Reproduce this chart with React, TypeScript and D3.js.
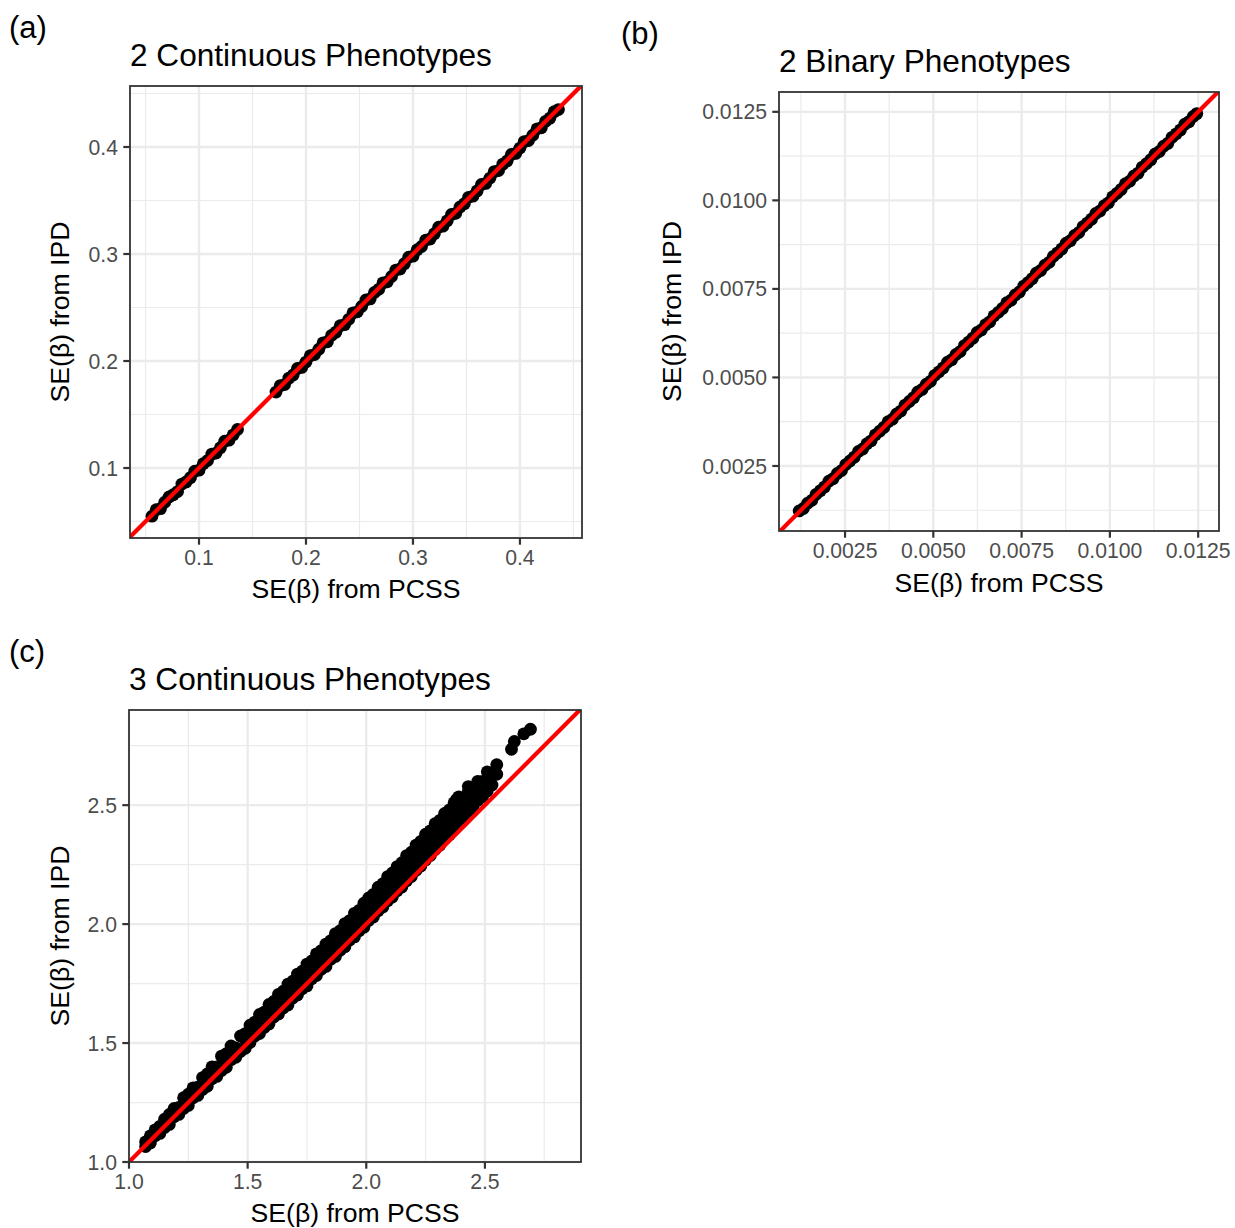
import React from "react";
import * as d3 from "d3";

type Pt = [number, number];

const FONT = "'Liberation Sans', Arial, Helvetica, sans-serif";

// ---------- data: [SE from PCSS, SE from IPD] ----------
const twoContinuousPoints: Pt[] = [
  [0.056, 0.055], [0.060, 0.061], [0.064, 0.062], [0.068, 0.068], [0.072, 0.073], [0.076, 0.075],
  [0.080, 0.078], [0.084, 0.085], [0.088, 0.087], [0.092, 0.091], [0.096, 0.097], [0.100, 0.098],
  [0.104, 0.104], [0.108, 0.107], [0.112, 0.113], [0.116, 0.114], [0.120, 0.119], [0.124, 0.125],
  [0.128, 0.126], [0.132, 0.131], [0.136, 0.136],
  [0.172, 0.171], [0.176, 0.177], [0.180, 0.178], [0.184, 0.184], [0.188, 0.187], [0.192, 0.193],
  [0.196, 0.194], [0.200, 0.199], [0.204, 0.205], [0.208, 0.206], [0.212, 0.211], [0.216, 0.217],
  [0.220, 0.218], [0.224, 0.224], [0.228, 0.227], [0.232, 0.233], [0.236, 0.234], [0.240, 0.239],
  [0.244, 0.245], [0.248, 0.246], [0.252, 0.251], [0.256, 0.257], [0.260, 0.258], [0.264, 0.264],
  [0.268, 0.267], [0.272, 0.273], [0.276, 0.274], [0.280, 0.279], [0.284, 0.285], [0.288, 0.286],
  [0.292, 0.291], [0.296, 0.297], [0.300, 0.298], [0.304, 0.304], [0.308, 0.307], [0.312, 0.313],
  [0.316, 0.314], [0.320, 0.319], [0.324, 0.325], [0.328, 0.326], [0.332, 0.331], [0.336, 0.337],
  [0.340, 0.338], [0.344, 0.344], [0.348, 0.347], [0.352, 0.353], [0.356, 0.354], [0.360, 0.359],
  [0.364, 0.365], [0.368, 0.366], [0.372, 0.371], [0.376, 0.377], [0.380, 0.378], [0.384, 0.384],
  [0.388, 0.387], [0.392, 0.393], [0.396, 0.394], [0.400, 0.399], [0.404, 0.405], [0.408, 0.406],
  [0.412, 0.411], [0.416, 0.417], [0.420, 0.418], [0.424, 0.424], [0.428, 0.427], [0.432, 0.433],
  [0.436, 0.435],
];

const twoBinaryPoints: Pt[] = [
  [0.00120, 0.00123], [0.00132, 0.00130], [0.00144, 0.00145], [0.00156, 0.00153], [0.00168, 0.00170],
  [0.00180, 0.00180], [0.00192, 0.00191], [0.00204, 0.00207], [0.00216, 0.00214], [0.00228, 0.00229],
  [0.00240, 0.00237], [0.00252, 0.00254], [0.00264, 0.00264], [0.00276, 0.00275], [0.00288, 0.00291],
  [0.00300, 0.00298], [0.00312, 0.00313], [0.00324, 0.00321], [0.00336, 0.00338], [0.00348, 0.00348],
  [0.00360, 0.00359], [0.00372, 0.00375], [0.00384, 0.00382], [0.00396, 0.00397], [0.00408, 0.00405],
  [0.00420, 0.00422], [0.00432, 0.00432], [0.00444, 0.00443], [0.00456, 0.00459], [0.00468, 0.00466],
  [0.00480, 0.00481], [0.00492, 0.00489], [0.00504, 0.00506], [0.00516, 0.00516], [0.00528, 0.00527],
  [0.00540, 0.00543], [0.00552, 0.00550], [0.00564, 0.00565], [0.00576, 0.00573], [0.00588, 0.00590],
  [0.00600, 0.00600], [0.00612, 0.00611], [0.00624, 0.00627], [0.00636, 0.00634], [0.00648, 0.00649],
  [0.00660, 0.00657], [0.00672, 0.00674], [0.00684, 0.00684], [0.00696, 0.00695], [0.00708, 0.00711],
  [0.00720, 0.00718], [0.00732, 0.00733], [0.00744, 0.00741], [0.00756, 0.00758], [0.00768, 0.00768],
  [0.00780, 0.00779], [0.00792, 0.00795], [0.00804, 0.00802], [0.00816, 0.00817], [0.00828, 0.00825],
  [0.00840, 0.00842], [0.00852, 0.00852], [0.00864, 0.00863], [0.00876, 0.00879], [0.00888, 0.00886],
  [0.00900, 0.00901], [0.00912, 0.00909], [0.00924, 0.00926], [0.00936, 0.00936], [0.00948, 0.00947],
  [0.00960, 0.00963], [0.00972, 0.00970], [0.00984, 0.00985], [0.00996, 0.00993], [0.01008, 0.01010],
  [0.01020, 0.01020], [0.01032, 0.01031], [0.01044, 0.01047], [0.01056, 0.01054], [0.01068, 0.01069],
  [0.01080, 0.01077], [0.01092, 0.01094], [0.01104, 0.01104], [0.01116, 0.01115], [0.01128, 0.01131],
  [0.01140, 0.01138], [0.01152, 0.01153], [0.01164, 0.01161], [0.01176, 0.01178], [0.01188, 0.01188],
  [0.01200, 0.01199], [0.01212, 0.01215], [0.01224, 0.01222], [0.01236, 0.01237], [0.01246, 0.01245],
];

const threeContinuousPoints: Pt[] = [
  [1.07, 1.065], [1.07, 1.085], [1.09, 1.080], [1.09, 1.110], [1.11, 1.110], [1.11, 1.135],
  [1.13, 1.120], [1.13, 1.150], [1.15, 1.145], [1.15, 1.180], [1.17, 1.158], [1.17, 1.185], [1.17, 1.200],
  [1.19, 1.190], [1.19, 1.225], [1.21, 1.200], [1.21, 1.230], [1.23, 1.225], [1.23, 1.270],
  [1.25, 1.238], [1.25, 1.265], [1.25, 1.285], [1.27, 1.270], [1.27, 1.312], [1.29, 1.280], [1.29, 1.315],
  [1.31, 1.305], [1.31, 1.355], [1.33, 1.318], [1.33, 1.350], [1.33, 1.370], [1.35, 1.350], [1.35, 1.400],
  [1.37, 1.360], [1.37, 1.400], [1.39, 1.385], [1.39, 1.445], [1.41, 1.398], [1.41, 1.430], [1.41, 1.455],
  [1.43, 1.430], [1.43, 1.488], [1.45, 1.440], [1.45, 1.480], [1.47, 1.465], [1.47, 1.530],
  [1.49, 1.478], [1.49, 1.515], [1.49, 1.540],
  [1.51, 1.502], [1.51, 1.540], [1.51, 1.575], [1.53, 1.530], [1.53, 1.570], [1.53, 1.588],
  [1.55, 1.540], [1.55, 1.575], [1.55, 1.620], [1.57, 1.566], [1.57, 1.605], [1.57, 1.630],
  [1.59, 1.580], [1.59, 1.620], [1.59, 1.662], [1.61, 1.610], [1.61, 1.655], [1.61, 1.675],
  [1.63, 1.622], [1.63, 1.660], [1.63, 1.705], [1.65, 1.647], [1.65, 1.690], [1.65, 1.718],
  [1.67, 1.660], [1.67, 1.698], [1.67, 1.748], [1.69, 1.690], [1.69, 1.740], [1.69, 1.760],
  [1.71, 1.702], [1.71, 1.745], [1.71, 1.790], [1.73, 1.728], [1.73, 1.775], [1.73, 1.802],
  [1.75, 1.740], [1.75, 1.780], [1.75, 1.832], [1.77, 1.770], [1.77, 1.820], [1.77, 1.845],
  [1.79, 1.784], [1.79, 1.825], [1.79, 1.875], [1.81, 1.810], [1.81, 1.858], [1.81, 1.888],
  [1.83, 1.822], [1.83, 1.860], [1.83, 1.916], [1.85, 1.852], [1.85, 1.905], [1.85, 1.930],
  [1.87, 1.864], [1.87, 1.905], [1.87, 1.960], [1.89, 1.890], [1.89, 1.940], [1.89, 1.972],
  [1.91, 1.905], [1.91, 1.950], [1.91, 2.002], [1.93, 1.933], [1.93, 1.988], [1.93, 2.015],
  [1.95, 1.946], [1.95, 1.985], [1.95, 2.045], [1.97, 1.972], [1.97, 2.025], [1.97, 2.058],
  [1.99, 1.987], [1.99, 2.030], [1.99, 2.088],
  [2.01, 2.015], [2.01, 2.050], [2.01, 2.080], [2.01, 2.110],
  [2.03, 2.030], [2.03, 2.060], [2.03, 2.095], [2.03, 2.125],
  [2.05, 2.056], [2.05, 2.095], [2.05, 2.125], [2.05, 2.155],
  [2.07, 2.072], [2.07, 2.105], [2.07, 2.138], [2.07, 2.170],
  [2.09, 2.098], [2.09, 2.135], [2.09, 2.170], [2.09, 2.200],
  [2.11, 2.114], [2.11, 2.148], [2.11, 2.180], [2.11, 2.215],
  [2.13, 2.140], [2.13, 2.180], [2.13, 2.215], [2.13, 2.242],
  [2.15, 2.156], [2.15, 2.190], [2.15, 2.225], [2.15, 2.258],
  [2.17, 2.182], [2.17, 2.220], [2.17, 2.258], [2.17, 2.288],
  [2.19, 2.200], [2.19, 2.235], [2.19, 2.270], [2.19, 2.302],
  [2.21, 2.226], [2.21, 2.265], [2.21, 2.300], [2.21, 2.332],
  [2.23, 2.244], [2.23, 2.280], [2.23, 2.315], [2.23, 2.348],
  [2.25, 2.270], [2.25, 2.308], [2.25, 2.345], [2.25, 2.378],
  [2.27, 2.288], [2.27, 2.322], [2.27, 2.360], [2.27, 2.392],
  [2.29, 2.314], [2.29, 2.350], [2.29, 2.390], [2.29, 2.422],
  [2.31, 2.332], [2.31, 2.366], [2.31, 2.404], [2.31, 2.436],
  [2.33, 2.358], [2.33, 2.395], [2.33, 2.432], [2.33, 2.465],
  [2.35, 2.376], [2.35, 2.410], [2.35, 2.448], [2.35, 2.480],
  [2.37, 2.405], [2.37, 2.440], [2.37, 2.475], [2.37, 2.510], [2.38, 2.524],
  [2.39, 2.430], [2.39, 2.465], [2.39, 2.500], [2.39, 2.535],
  [2.41, 2.445], [2.41, 2.490], [2.41, 2.530],
  [2.43, 2.475], [2.43, 2.515], [2.43, 2.555], [2.43, 2.578],
  [2.45, 2.490], [2.45, 2.530], [2.45, 2.565],
  [2.47, 2.520], [2.47, 2.560], [2.47, 2.600],
  [2.49, 2.535], [2.49, 2.575], [2.49, 2.600],
  [2.51, 2.560], [2.51, 2.605], [2.51, 2.640],
  [2.53, 2.585], [2.53, 2.630], [2.55, 2.630], [2.55, 2.670],
  [2.612, 2.735], [2.624, 2.768], [2.664, 2.800], [2.692, 2.819],
];

const twoContinuousTicks = [0.1, 0.2, 0.3, 0.4];
const twoContinuousMinor = [0.05, 0.15, 0.25, 0.35, 0.45];
const twoBinaryTicks = [0.0025, 0.005, 0.0075, 0.01, 0.0125];
const twoBinaryMinor = [0.00125, 0.00375, 0.00625, 0.00875, 0.01125];
const threeContinuousTicks = [1.0, 1.5, 2.0, 2.5];
const threeContinuousMinor = [1.25, 1.75, 2.25, 2.75];

const xAxisTitle = "SE(\u03b2) from PCSS";
const yAxisTitle = "SE(\u03b2) from IPD";

// ---------- styling ----------
const TICK_FS = 21.2;
const AXIS_FS = 26.6;
const TITLE_FS = 31.6;
const TAG_FS = 31;
const POINT_R = 6.4;

interface PanelProps {
  id: string;
  tag: string;
  tagX: number;
  tagY: number;
  title: string;
  titleY: number;
  left: number;
  right: number;
  top: number;
  bottom: number;
  xDomain: [number, number];
  yDomain: [number, number];
  ticks: number[];
  minor: number[];
  fmt: (v: number) => string;
  points: Pt[];
  yTitleX: number;
  xTitleY: number;
}

function Panel(p: PanelProps) {
  const x = d3.scaleLinear().domain(p.xDomain).range([p.left, p.right]);
  const y = d3.scaleLinear().domain(p.yDomain).range([p.bottom, p.top]);
  const inX = (v: number) => v >= p.xDomain[0] - 1e-9 && v <= p.xDomain[1] + 1e-9;
  const inY = (v: number) => v >= p.yDomain[0] - 1e-9 && v <= p.yDomain[1] + 1e-9;
  const lo = Math.min(p.xDomain[0], p.yDomain[0]) - 1;
  const hi = Math.max(p.xDomain[1], p.yDomain[1]) + 1;
  const abline = d3.line<number>().x((d) => x(d)).y((d) => y(d))([lo, hi]) || "";
  const tickLen = 6.7;
  const gap = 5.3;
  const midY = (p.top + p.bottom) / 2;
  const midX = (p.left + p.right) / 2;
  return (
    <g>
      <defs>
        <clipPath id={`clip-${p.id}`}>
          <rect x={p.left} y={p.top} width={p.right - p.left} height={p.bottom - p.top} />
        </clipPath>
      </defs>
      <text x={p.tagX} y={p.tagY} fontSize={TAG_FS} fontFamily={FONT} fill="#000">{p.tag}</text>
      <text x={p.left} y={p.titleY} fontSize={TITLE_FS} fontFamily={FONT} fill="#000">{p.title}</text>
      <rect x={p.left} y={p.top} width={p.right - p.left} height={p.bottom - p.top} fill="#fff" />
      {p.minor.filter(inX).map((v) => (
        <line key={`mx${v}`} x1={x(v)} x2={x(v)} y1={p.top} y2={p.bottom} stroke="#EBEBEB" strokeWidth={1.2} />
      ))}
      {p.minor.filter(inY).map((v) => (
        <line key={`my${v}`} y1={y(v)} y2={y(v)} x1={p.left} x2={p.right} stroke="#EBEBEB" strokeWidth={1.2} />
      ))}
      {p.ticks.filter(inX).map((v) => (
        <line key={`gx${v}`} x1={x(v)} x2={x(v)} y1={p.top} y2={p.bottom} stroke="#EBEBEB" strokeWidth={2.4} />
      ))}
      {p.ticks.filter(inY).map((v) => (
        <line key={`gy${v}`} y1={y(v)} y2={y(v)} x1={p.left} x2={p.right} stroke="#EBEBEB" strokeWidth={2.4} />
      ))}
      <g clipPath={`url(#clip-${p.id})`}>
        {p.points.map((d, i) => (
          <circle key={i} cx={x(d[0])} cy={y(d[1])} r={POINT_R} fill="#000" />
        ))}
        <path d={abline} stroke="#FF0000" strokeWidth={4.2} fill="none" />
      </g>
      <rect x={p.left} y={p.top} width={p.right - p.left} height={p.bottom - p.top} fill="none" stroke="#333333" strokeWidth={1.8} />
      {p.ticks.filter(inX).map((v) => (
        <g key={`tx${v}`}>
          <line x1={x(v)} x2={x(v)} y1={p.bottom} y2={p.bottom + tickLen} stroke="#333333" strokeWidth={2.2} />
          <text x={x(v)} y={p.bottom + tickLen + gap + 0.716 * TICK_FS} textAnchor="middle" fontSize={TICK_FS} fontFamily={FONT} fill="#4D4D4D">
            {p.fmt(v)}
          </text>
        </g>
      ))}
      {p.ticks.filter(inY).map((v) => (
        <g key={`ty${v}`}>
          <line x1={p.left - tickLen} x2={p.left} y1={y(v)} y2={y(v)} stroke="#333333" strokeWidth={2.2} />
          <text x={p.left - tickLen - gap} y={y(v) + 0.358 * TICK_FS} textAnchor="end" fontSize={TICK_FS} fontFamily={FONT} fill="#4D4D4D">
            {p.fmt(v)}
          </text>
        </g>
      ))}
      <text x={midX} y={p.xTitleY} textAnchor="middle" fontSize={AXIS_FS} fontFamily={FONT} fill="#000">{xAxisTitle}</text>
      <text transform={`translate(${p.yTitleX},${midY}) rotate(-90)`} textAnchor="middle" fontSize={AXIS_FS} fontFamily={FONT} fill="#000">{yAxisTitle}</text>
    </g>
  );
}

export default function App() {
  const f1 = d3.format(".1f");
  const f4 = d3.format(".4f");
  return (
    <svg width={1235} height={1228} style={{ position: "absolute", left: 0, top: 0, background: "#fff" }}>
      <rect x={0} y={0} width={1235} height={1228} fill="#fff" />
      <Panel
        id="a" tag="(a)" tagX={9} tagY={38}
        title="2 Continuous Phenotypes" titleY={66}
        left={130} right={582} top={86} bottom={538}
        xDomain={[0.0355, 0.458]} yDomain={[0.0346, 0.457]}
        ticks={twoContinuousTicks} minor={twoContinuousMinor} fmt={f1}
        points={twoContinuousPoints} yTitleX={69} xTitleY={598}
      />
      <Panel
        id="b" tag="(b)" tagX={621} tagY={44}
        title="2 Binary Phenotypes" titleY={72}
        left={779} right={1219} top={92} bottom={531}
        xDomain={[0.00063, 0.01309]} yDomain={[0.000664, 0.01306]}
        ticks={twoBinaryTicks} minor={twoBinaryMinor} fmt={f4}
        points={twoBinaryPoints} yTitleX={681} xTitleY={592}
      />
      <Panel
        id="c" tag="(c)" tagX={9} tagY={662}
        title="3 Continuous Phenotypes" titleY={690}
        left={129} right={581} top={710} bottom={1162}
        xDomain={[1.0, 2.905]} yDomain={[1.0, 2.9]}
        ticks={threeContinuousTicks} minor={threeContinuousMinor} fmt={f1}
        points={threeContinuousPoints} yTitleX={69} xTitleY={1222}
      />
    </svg>
  );
}
